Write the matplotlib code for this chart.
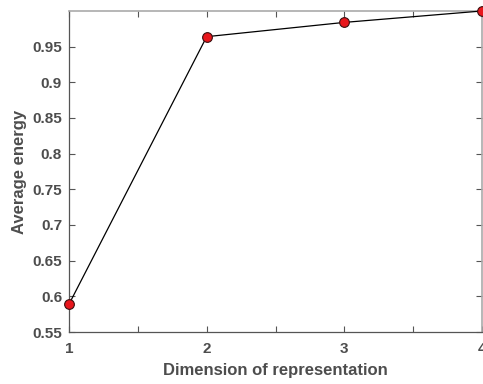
import matplotlib
matplotlib.use("Agg")
import matplotlib.pyplot as plt
from matplotlib.ticker import MultipleLocator

dims = [1, 2, 3, 4]
energy = [0.589, 0.964, 0.984, 1.0]
yticks = [0.55, 0.6, 0.65, 0.7, 0.75, 0.8, 0.85, 0.9, 0.95]
ytick_labels = ["0.55", "0.6", "0.65", "0.7", "0.75", "0.8", "0.85", "0.9", "0.95"]
xticks = [1, 2, 3, 4]

plt.rcParams['font.family'] = ['Liberation Sans', 'DejaVu Sans']
txt = '#4d4d4d'

fig = plt.figure(figsize=(4.83, 3.84), dpi=100)
ax = fig.add_axes([0.1429, 0.1354, 0.998 - 0.1429, 0.9714 - 0.1354])

ax.plot(dims, energy, '-', color='black', lw=0.9, marker='o', markersize=7,
        markerfacecolor='#e8161c', markeredgecolor='#3a1010', markeredgewidth=0.8,
        clip_on=False, zorder=5)

ax.set_xlim(1, 4)
ax.set_ylim(0.55, 1.0)
ax.set_xticks(xticks)
ax.set_xticklabels([str(x) for x in xticks])
ax.xaxis.set_minor_locator(MultipleLocator(0.5))
ax.set_yticks(yticks)
ax.set_yticklabels(ytick_labels)

ax.tick_params(axis='both', which='both', direction='in', colors='#555555',
               labelcolor=txt, labelsize=11, top=True, right=True)
ax.tick_params(which='major', length=4, width=0.8)
ax.tick_params(which='minor', length=4, width=0.8)
ax.tick_params(axis='x', which='both', pad=7)
ax.tick_params(axis='y', which='both', pad=5)
for lab in ax.get_xticklabels() + ax.get_yticklabels():
    lab.set_fontweight('bold')

for s in ['left', 'bottom']:
    ax.spines[s].set_color('#555555')
    ax.spines[s].set_linewidth(0.9)
for s in ['top', 'right']:
    ax.spines[s].set_color('#aaaaaa')
    ax.spines[s].set_linewidth(1.2)

ax.set_xlabel('Dimension of representation', fontsize=12, fontweight='bold', color=txt, labelpad=5)
ax.set_ylabel('Average energy', fontsize=12, fontweight='bold', color=txt, labelpad=4)

fig.savefig('out.png', dpi=100)
